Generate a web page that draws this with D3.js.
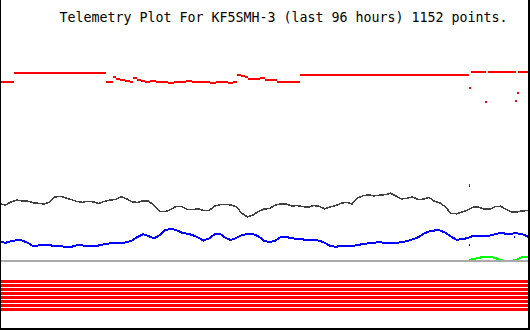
<!DOCTYPE html>
<html>
<head>
<meta charset="utf-8">
<script src="https://cdn.jsdelivr.net/npm/d3@7"></script>
<style>
  body { margin: 0; background: #fff; }
  svg { display: block; }
</style>
</head>
<body>
<div id="chart"></div>
<script>
const title = "Telemetry Plot For KF5SMH-3 (last 96 hours) 1152 points.";

// shared hourly grid, 0 = 96 hours ago
const hours = d3.range(0, 97);

// channel readings on the hourly grid (raw 0-255 units)
const grayValues = [
  57, 56, 59, 61, 60, 60, 58.3, 57.7, 57, 59,
  64, 64.7, 63, 61.3, 59.5, 58.7, 59.8, 59, 57.5, 59.7,
  61, 61.5, 64.3, 62.2, 59.3, 58.5, 60.2, 60.2, 55.5, 49.7,
  49.3, 51.3, 54.5, 54.4, 51.7, 51.5, 52.1, 50.7, 50.3, 54.8,
  56.4, 56.7, 56, 54, 47.6, 44, 46, 49.6, 51.9, 52.6,
  55.8, 57.2, 57.2, 55, 55.4, 54.4, 53.7, 55.5, 54.8, 52.2,
  54.1, 55.3, 57.8, 58.6, 57, 62.9, 65.2, 66.2, 65.1, 65.8,
  66.3, 67.8, 65, 62, 62.7, 64, 61.6, 61.8, 63.5, 59.7,
  58, 54, 47.5, 47.2, 49, 50.8, 53.8, 54, 52, 51.7,
  54.3, 54.8, 51.7, 48.9, 49.1, 50.2, 50.3
];

const blueValues = [
  19.3, 18.2, 19.7, 20.8, 20.5, 18.3, 15, 15.5, 16, 15.6,
  15.3, 15.2, 13.6, 14.2, 15.7, 15.6, 14.9, 14.5, 15.6, 16.9,
  17.7, 17.7, 18.1, 18.6, 20.5, 24, 26.7, 25, 22.5, 25.8,
  30.6, 32.3, 31, 28.5, 27.3, 26, 23.6, 20.4, 22.6, 26.7,
  27.4, 23, 21, 23.1, 26, 27, 27, 24.6, 20.3, 18.8,
  20.3, 23.8, 24.1, 22.8, 22, 21.6, 21, 20.9, 20.4, 18.3,
  15.1, 14.2, 15, 15, 15.2, 15.8, 17.1, 17.7, 18.2, 18.9,
  18.1, 17.7, 18, 18.8, 20, 21.6, 23.7, 27.2, 29.5, 30.5,
  30.6, 28.3, 24.5, 21.3, 21.7, 22.9, 25, 25, 25, 25.4,
  26.8, 28, 27.3, 27.4, 27.7, 26.8, 24.3
];

// green channel only rises off zero near the end: [hour, value]
const greenPoints = [
  [0, 0], [85, 0], [86, 2], [87, 3], [88, 4.3], [89, 4.3], [90, 3],
  [91, 1], [92, 0], [93, 0], [94, 1.5], [95, 4.3], [96, 4.3]
];

// red channel holds its value until the next reading: [hour, value], null = gap
const redSteps = [
  [0, 179], [2.5, 188], [19.3, 179], [20.5, 184], [21.1, 182], [21.8, 181],
  [22.7, 180], [23.6, 179.5], [24.2, 183], [24.9, 181.5], [25.6, 180], [26.4, 179],
  [27.3, 180], [28.4, 179], [29.5, 179.5], [30.5, 178.5], [31.6, 179.5], [32.7, 179],
  [33.8, 180], [34.9, 179], [36, 179.5], [37.1, 179], [38.2, 178.5], [39.3, 179.5],
  [40.4, 179], [41.5, 178.5], [42.4, 179], [43.1, 186], [43.8, 185.5], [44.5, 184],
  [45.1, 182], [45.8, 182.5], [46.5, 182], [47.3, 183], [48.2, 181], [49.3, 181],
  [50.4, 179.5], [51.5, 179], [52.7, 179.5], [53.8, 179], [54.5, 186],
  [85.3, null], [85.6, 189], [88.4, null], [88.7, 189], [93.8, null], [94.2, 189]
];

// stray single readings
const redStray = [[85.5, 173], [88.4, 159], [93.8, 160], [94.2, 168]];
const grayStray = [[85.3, 76]];
const blueStray = [[85.3, 16], [93.5, 24]];

// 8 digital bits, all set for the whole period
const bits = [1, 1, 1, 1, 1, 1, 1, 1];

const width = 530, height = 330;

const svg = d3
  .select("#chart")
  .append("svg")
  .attr("width", width)
  .attr("height", height);

const x = d3.scaleLinear().domain([0, 96]).range([0, 528]);
const y = d3.scaleLinear().domain([0, 255]).range([261, 6]);

const line = d3
  .line()
  .x((d) => x(d[0]))
  .y((d) => y(d[1]));

// green channel (under the zero line)
svg
  .append("path")
  .datum(greenPoints)
  .attr("fill", "none")
  .attr("stroke", "#00ff00")
  .attr("stroke-width", 2)
  .attr("shape-rendering", "crispEdges")
  .attr("d", line);

// zero line
svg
  .append("line")
  .attr("x1", x(0))
  .attr("x2", x(96))
  .attr("y1", y(0))
  .attr("y2", y(0))
  .attr("stroke", "#aaaaaa")
  .attr("stroke-width", 2)
  .attr("shape-rendering", "crispEdges");

// gray channel
svg
  .append("path")
  .datum(hours.map((h, i) => [h, grayValues[i]]))
  .attr("fill", "none")
  .attr("stroke", "#404040")
  .attr("stroke-width", 1.5)
  .attr("shape-rendering", "crispEdges")
  .attr("d", line);

// blue channel
svg
  .append("path")
  .datum(hours.map((h, i) => [h, blueValues[i]]))
  .attr("fill", "none")
  .attr("stroke", "#0000ff")
  .attr("stroke-width", 2)
  .attr("shape-rendering", "crispEdges")
  .attr("d", line);

// red channel, steps without risers
svg
  .append("g")
  .attr("shape-rendering", "crispEdges")
  .selectAll("rect")
  .data(redSteps.map((d, i) => [d[0], i < redSteps.length - 1 ? redSteps[i + 1][0] : 96, d[1]]).filter((d) => d[2] !== null))
  .join("rect")
  .attr("x", (d) => x(d[0]))
  .attr("width", (d) => x(d[1]) - x(d[0]))
  .attr("y", (d) => y(d[2]) - 1)
  .attr("height", 2)
  .attr("fill", "#ff0000");

// stray readings
const strays = [
  { pts: redStray, color: "#ff0000", w: 2, h: 2 },
  { pts: grayStray, color: "#404040", w: 1, h: 3 },
  { pts: blueStray, color: "#0000ff", w: 1, h: 2 },
];
strays.forEach((s) => {
  svg
    .append("g")
    .attr("shape-rendering", "crispEdges")
    .selectAll("rect")
    .data(s.pts)
    .join("rect")
    .attr("x", (d) => x(d[0]) - s.w / 2)
    .attr("y", (d) => y(d[1]) - s.h / 2)
    .attr("width", s.w)
    .attr("height", s.h)
    .attr("fill", s.color);
});

// digital bits
const bitY = d3
  .scaleBand()
  .domain(d3.range(bits.length))
  .range([279.5, 311.5])
  .paddingInner(0.25)
  .paddingOuter(0.125);

svg
  .append("g")
  .attr("shape-rendering", "crispEdges")
  .selectAll("rect")
  .data(bits)
  .join("rect")
  .attr("x", x(0))
  .attr("width", x(96) - x(0))
  .attr("y", (d, i) => bitY(i))
  .attr("height", bitY.bandwidth())
  .attr("fill", (d) => (d ? "#ff0000" : "none"));

// frame: left, bottom, right
svg.append("rect").attr("x", 0).attr("y", 0).attr("width", 1).attr("height", height).attr("fill", "#000");
svg.append("rect").attr("x", 0).attr("y", 328).attr("width", width).attr("height", 2).attr("fill", "#000");
svg.append("rect").attr("x", 528).attr("y", 0).attr("width", 2).attr("height", height).attr("fill", "#000");

// title
svg
  .append("text")
  .attr("x", 59.5)
  .attr("y", 22)
  .attr("font-family", "DejaVu Sans Mono, monospace")
  .attr("font-size", "13.3px")
  .attr("textLength", 448)
  .attr("lengthAdjust", "spacing")
  .attr("fill", "#000")
  .text(title);
</script>
</body>
</html>
